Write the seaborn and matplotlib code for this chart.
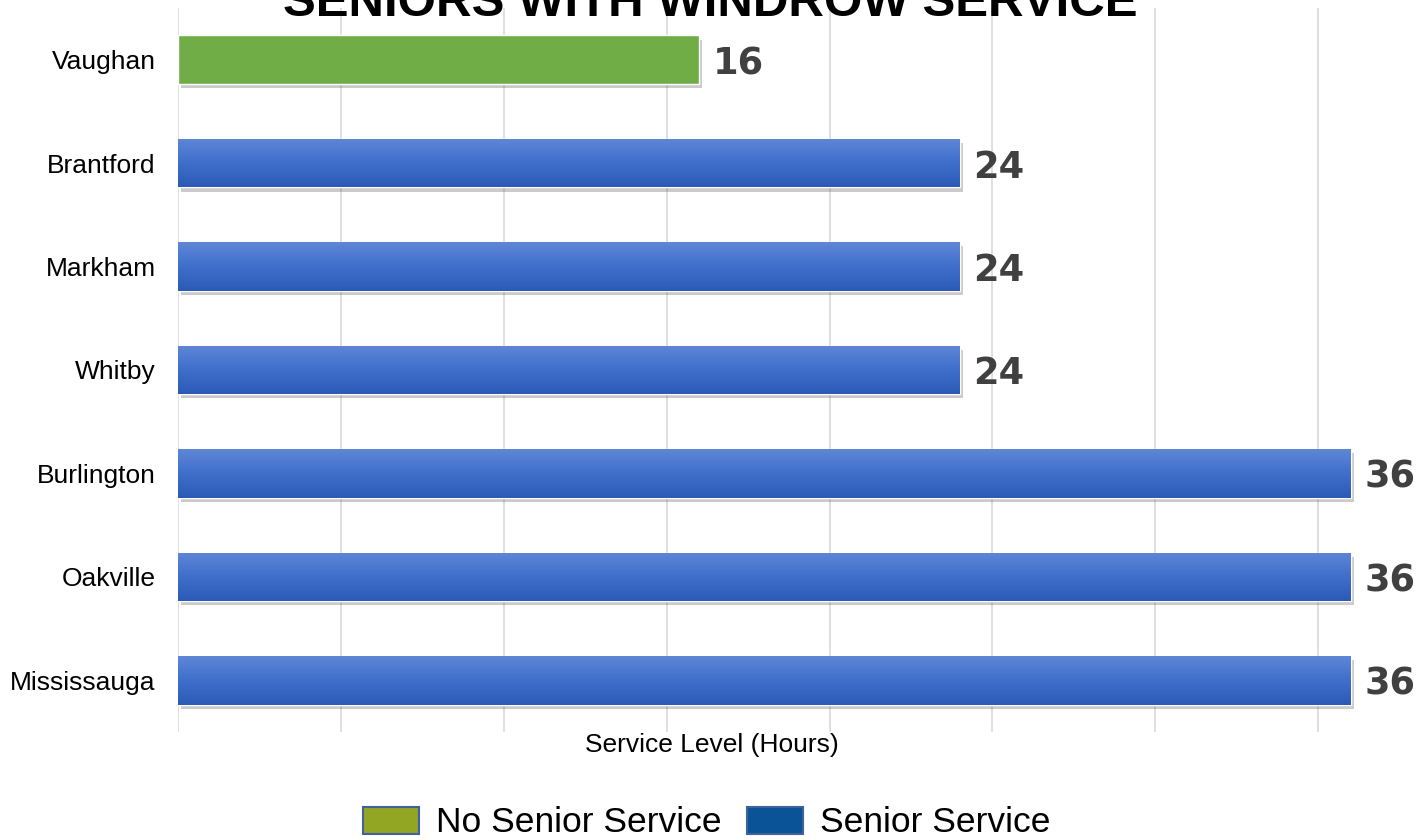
import matplotlib
matplotlib.use("Agg")
import matplotlib.pyplot as plt
import matplotlib.patheffects as pe
from matplotlib.colors import LinearSegmentedColormap
from matplotlib.patches import Patch
import numpy as np
import pandas as pd
import seaborn as sns

cities = ["Vaughan", "Brantford", "Markham", "Whitby", "Burlington", "Oakville", "Mississauga"]
hours = [16, 24, 24, 24, 36, 36, 36]
service = ["No Senior Service"] + ["Senior Service"] * 6

df = pd.DataFrame({"City": cities, "Hours": hours, "Service": service})

sns.set_style("white")
plt.rcParams["font.family"] = ["Liberation Sans", "DejaVu Sans"]

fig = plt.figure(figsize=(14.16, 8.4), dpi=100)
ax = fig.add_axes([178 / 1416, 1 - 732 / 840, 1238 / 1416, 724 / 840])

bar_colors = {"No Senior Service": "#70AD47", "Senior Service": "#3F6FCB"}
sns.barplot(data=df, x="Hours", y="City", hue="Service", palette=bar_colors,
            dodge=False, width=0.47, legend=False, saturation=1, ax=ax)

# gradient fill on the blue bars, plus a soft drop shadow on every bar
blue_cmap = LinearSegmentedColormap.from_list("bluegrad", ["#5F87D6", "#3F6FCB", "#2B5BB6"])
grad = np.linspace(0, 1, 100).reshape(-1, 1)
for p in ax.patches:
    p.set_path_effects([pe.SimplePatchShadow(offset=(2, -3), alpha=0.3, shadow_rgbFace="#555555"),
                        pe.Normal()])
    p.set_zorder(2)
    x0, y0 = p.get_x(), p.get_y()
    w, h = p.get_width(), p.get_height()
    if w > 16:
        im = ax.imshow(grad, extent=(x0, x0 + w, y0 + h, y0), origin="upper",
                       aspect="auto", cmap=blue_cmap, zorder=3)
        im.set_clip_path(p)

for i, v in enumerate(hours):
    ax.text(v + 0.42, i, str(v), va="center_baseline", ha="left", fontsize=26.5,
            fontweight="bold", color="#404040", family="DejaVu Sans", zorder=4)

ax.set_xlim(0, 38)
ax.set_ylim(6.5, -0.5)
ax.set_xticks(range(0, 40, 5))
ax.xaxis.grid(True, color="#d9d9d9", lw=1.2, zorder=0)
ax.set_axisbelow(True)
ax.tick_params(axis="x", labelbottom=False, length=0)
ax.tick_params(axis="y", length=0, pad=16, labelsize=19, labelcolor="black")
ax.set_xlabel("")
ax.set_ylabel("")
sns.despine(ax=ax, left=True, bottom=True)

fig.text(712 / 1416, 1 - 745 / 840, "Service Level (Hours)", ha="center", va="center",
         fontsize=19, color="black")
fig.text(710 / 1416, 1 - 16 / 840, "SENIORS WITH WINDROW SERVICE", ha="center",
         va="baseline", fontsize=35.5, fontweight="bold", color="black")

handles = [Patch(facecolor="#93A623", edgecolor="#41609E", lw=1.5, label="No Senior Service"),
           Patch(facecolor="#0A5396", edgecolor="#41609E", lw=1.5, label="Senior Service")]
fig.legend(handles=handles, loc="center", bbox_to_anchor=(707 / 1416, 1 - 823 / 840),
           ncol=2, frameon=False, fontsize=25.5, handlelength=1.58, handleheight=0.79,
           handletextpad=0.48, columnspacing=0.73, labelcolor="black")

fig.savefig("out.png", dpi=100)
